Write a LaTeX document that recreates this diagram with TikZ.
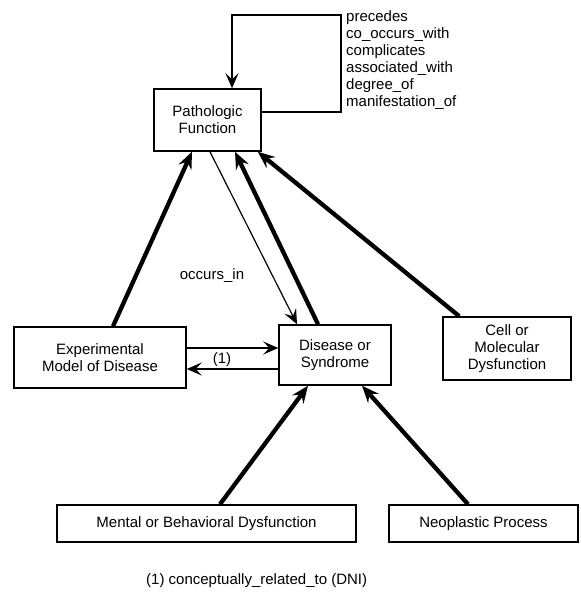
\documentclass[tikz,border=0pt]{standalone}
\usepackage{fontspec}
\setmainfont{Liberation Sans}
\usetikzlibrary{arrows.meta,calc}
\tikzset{
  box/.style={draw, line width=1.5pt, align=center, inner sep=0pt, font=\fontsize{15}{17}\selectfont},
  thickarrow/.style={line width=4.3pt, -{Stealth[length=17pt,width=14pt,inset=6pt]}},
  thinarrow/.style={line width=1.2pt, -{Stealth[length=15pt,width=13pt,inset=6pt]}},
  lbl/.style={font=\fontsize{15}{17}\selectfont, inner sep=0pt}
}
\begin{document}
\begin{tikzpicture}[x=1pt,y=-1pt]
\useasboundingbox (0,0) rectangle (580,596);
\node[box, minimum width=107pt, minimum height=62pt] (pf) at (207.5,120) {Pathologic\\Function};
\node[box, minimum width=172pt, minimum height=61pt] (exp) at (100,357.5) {Experimental\\Model of Disease};
\node[box, minimum width=112pt, minimum height=60pt] (dis) at (335,355) {Disease or\\Syndrome};
\node[box, minimum width=128pt, minimum height=63pt] (cell) at (507,348.5) {Cell or\\Molecular\\Dysfunction};
\node[box, minimum width=299pt, minimum height=37pt] (ment) at (206.5,523.5) {Mental or Behavioral Dysfunction};
\node[box, minimum width=189pt, minimum height=37pt] (neo) at (483.5,523.5) {Neoplastic Process};
\coordinate (loopc) at (341,15);
% self loop
\draw[line width=1.5pt, -{Stealth[length=15pt,width=13pt,inset=6pt]}] ([yshift=8pt]pf.east) -| (loopc) -| ([xshift=24.5pt]pf.north);
\node[lbl, anchor=north west, align=left] (rels) at (346,10) {precedes\\co\_occurs\_with\\complicates\\associated\_with\\degree\_of\\manifestation\_of};
% arrows
\draw[thickarrow] ([xshift=13pt]exp.north) -- ([xshift=-15.5pt]pf.south);
\draw[thinarrow] ([xshift=2.5pt]pf.south) -- ([xshift=-38pt]dis.north);
\node[lbl] (occ) at (212,276) {occurs\_in};
\draw[thickarrow] ([xshift=-17pt]dis.north) -- ([xshift=27.5pt]pf.south);
\draw[thickarrow] ([xshift=17pt]cell.north west) -- ([xshift=-4pt]pf.south east);
\draw[thickarrow] ([xshift=13.5pt]ment.north) -- ([xshift=-27pt]dis.south);
\draw[thickarrow] ([xshift=-15.5pt]neo.north) -- ([xshift=27pt]dis.south);
\draw[thinarrow] ([yshift=9.5pt]exp.east) -- ([yshift=9.5pt]exp.east -| dis.west);
\draw[thinarrow] ([yshift=-11.5pt]exp.east -| dis.west) -- ([yshift=-11.5pt]exp.east);
\node[lbl] (one) at (222,360) {(1)};
\node[lbl, anchor=west] (foot) at (146,581) {(1) conceptually\_related\_to (DNI)};
\end{tikzpicture}
\end{document}
